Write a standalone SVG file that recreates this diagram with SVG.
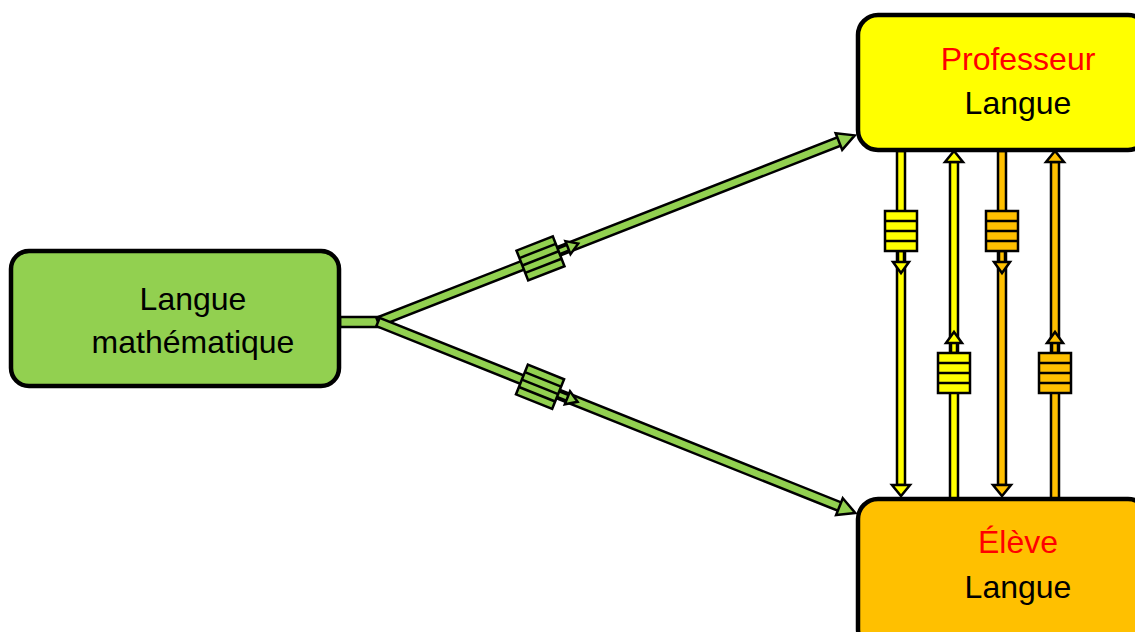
<svg xmlns="http://www.w3.org/2000/svg" width="1135" height="632" viewBox="0 0 1135 632">
<style>
.lbl{font-family:"Liberation Sans",Arial,sans-serif;font-size:32px;text-anchor:middle;fill:#000}
.red{fill:#FF0000}
.ol{stroke:#000;stroke-width:2.5;stroke-linejoin:miter}
.g{fill:#92D050}
.y{fill:#FFFF00}
.o{fill:#FFC000}
.node{stroke:#000;stroke-width:4.5}
.st{stroke:#000;stroke-width:2.5}
</style>
<rect width="1135" height="632" fill="#fff"/>
<g id="connectors">
  <g id="green-junction">
    <rect x="340" y="317" width="44" height="10" class="g ol"/>
  </g>
  <g id="green-up" transform="translate(378,322) rotate(-21.38)">
    <rect x="0" y="-4.5" width="497" height="9" class="g ol"/>
    <polygon points="495,-9 512,0 495,9" class="g ol"/>
    <rect x="192" y="-3" width="14" height="6" class="g ol"/>
    <polygon points="204,-7 215,0 204,7" class="g ol"/>
    <rect x="155" y="-16" width="39" height="32" class="g ol"/>
    <line x1="155" y1="-8" x2="194" y2="-8" class="st"/>
    <line x1="155" y1="0" x2="194" y2="0" class="st"/>
    <line x1="155" y1="8" x2="194" y2="8" class="st"/>
  </g>
  <g id="green-down" transform="translate(378,322) rotate(21.8)">
    <rect x="0" y="-4.5" width="499" height="9" class="g ol"/>
    <polygon points="497,-9 514,0 497,9" class="g ol"/>
    <rect x="192" y="-3" width="14" height="6" class="g ol"/>
    <polygon points="204,-7 215,0 204,7" class="g ol"/>
    <rect x="155" y="-16" width="39" height="32" class="g ol"/>
    <line x1="155" y1="-8" x2="194" y2="-8" class="st"/>
    <line x1="155" y1="0" x2="194" y2="0" class="st"/>
    <line x1="155" y1="8" x2="194" y2="8" class="st"/>
  </g>
  <g id="v1">
    <rect x="897" y="151" width="8" height="334" class="y ol"/>
    <polygon points="892,485 910,485 901,496" class="y ol"/>
    <rect x="898" y="251" width="6" height="12" class="y ol"/>
    <polygon points="893,262 909,262 901,273" class="y ol"/>
    <rect x="885" y="211" width="32" height="40" class="y ol" stroke-width="3"/>
    <line x1="885" y1="221" x2="917" y2="221" class="st"/>
    <line x1="885" y1="231" x2="917" y2="231" class="st"/>
    <line x1="885" y1="241" x2="917" y2="241" class="st"/>
  </g>
  <g id="v2">
    <rect x="950" y="162" width="8" height="337" class="y ol"/>
    <polygon points="945,162 963,162 954,151" class="y ol"/>
    <rect x="951" y="342" width="6" height="11" class="y ol"/>
    <polygon points="946,343 962,343 954,332" class="y ol"/>
    <rect x="938" y="353" width="32" height="40" class="y ol" stroke-width="3"/>
    <line x1="938" y1="363" x2="970" y2="363" class="st"/>
    <line x1="938" y1="373" x2="970" y2="373" class="st"/>
    <line x1="938" y1="383" x2="970" y2="383" class="st"/>
  </g>
  <g id="v3">
    <rect x="998" y="151" width="8" height="334" class="o ol"/>
    <polygon points="993,485 1011,485 1002,496" class="o ol"/>
    <rect x="999" y="251" width="6" height="12" class="o ol"/>
    <polygon points="994,262 1010,262 1002,273" class="o ol"/>
    <rect x="986" y="211" width="32" height="40" class="o ol" stroke-width="3"/>
    <line x1="986" y1="221" x2="1018" y2="221" class="st"/>
    <line x1="986" y1="231" x2="1018" y2="231" class="st"/>
    <line x1="986" y1="241" x2="1018" y2="241" class="st"/>
  </g>
  <g id="v4">
    <rect x="1051" y="162" width="8" height="337" class="o ol"/>
    <polygon points="1046,162 1064,162 1055,151" class="o ol"/>
    <rect x="1052" y="342" width="6" height="11" class="o ol"/>
    <polygon points="1047,343 1063,343 1055,332" class="o ol"/>
    <rect x="1039" y="353" width="32" height="40" class="o ol" stroke-width="3"/>
    <line x1="1039" y1="363" x2="1071" y2="363" class="st"/>
    <line x1="1039" y1="373" x2="1071" y2="373" class="st"/>
    <line x1="1039" y1="383" x2="1071" y2="383" class="st"/>
  </g>
</g>
<g id="node-math">
  <rect x="11" y="251" width="328" height="135" rx="18" class="g node"/>
  <text x="193" y="310" class="lbl">Langue</text>
  <text x="193" y="353" class="lbl" font-size="33">mathématique</text>
</g>
<g id="node-prof">
  <rect x="858" y="15" width="290" height="135" rx="20" class="y node"/>
  <text x="1018" y="70" class="lbl red">Professeur</text>
  <text x="1018" y="114" class="lbl">Langue</text>
</g>
<g id="node-eleve">
  <rect x="858" y="499" width="290" height="150" rx="20" class="o node"/>
  <text x="1018" y="553" class="lbl red">Élève</text>
  <text x="1018" y="598" class="lbl">Langue</text>
</g>
</svg>
